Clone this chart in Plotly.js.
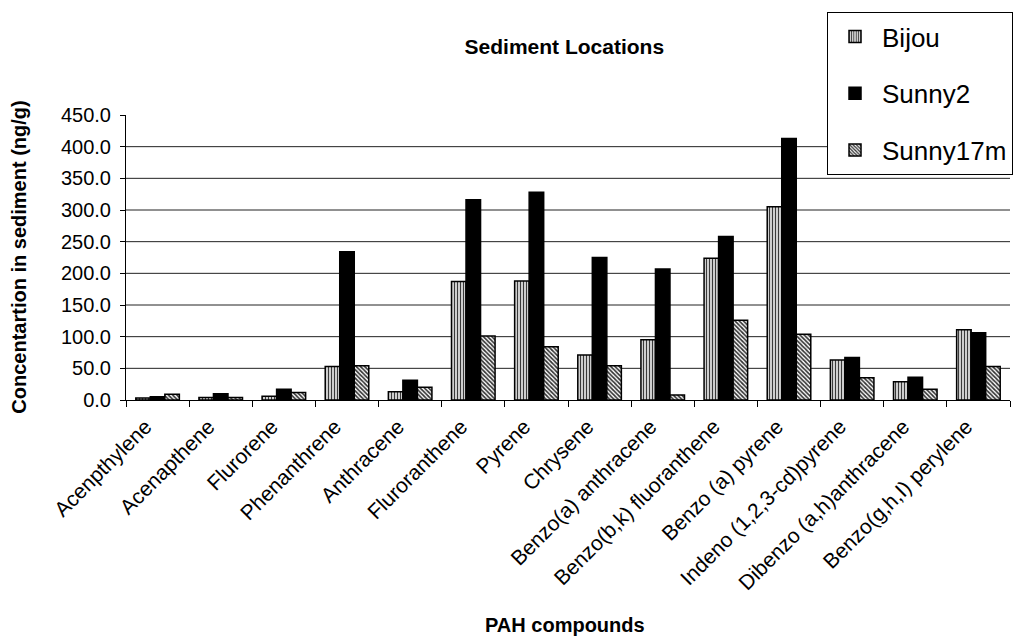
<!DOCTYPE html>
<html>
<head>
<meta charset="utf-8">
<script src="https://cdn.plot.ly/plotly-3.0.1.min.js"></script>
<style>
html,body{margin:0;padding:0;background:#fff;}
#chart{width:1028px;height:637px;}
</style>
</head>
<body>
<div id="chart"></div>
<script>
const compounds = [
  "Acenpthylene", "Acenapthene", "Flurorene", "Phenanthrene", "Anthracene",
  "Fluroranthene", "Pyrene", "Chrysene", "Benzo(a) anthracene",
  "Benzo(b,k) fluoranthene", "Benzo (a) pyrene", "Indeno (1,2,3-cd)pyrene",
  "Dibenzo (a,h)anthracene", "Benzo(g,h,I) perylene"
];
const bijou    = [3, 4, 6, 53, 13, 187, 188, 71, 95, 224, 305, 63, 29, 111];
const sunny2   = [5, 10, 17, 234, 31, 316, 328, 225, 207, 258, 413, 67, 36, 106];
const sunny17m = [9, 4, 12, 54, 20, 101, 84, 54, 8, 126, 104, 35, 17, 53];
const yTicks = [0, 50, 100, 150, 200, 250, 300, 350, 400, 450];
const gridValues = [50, 100, 150, 200, 250, 300, 350, 400];

const FONT = "Liberation Sans, Arial, sans-serif";

const traces = [
  {
    type: "bar", name: "Bijou", x: compounds, y: bijou, legendgroup: "a",
    marker: {color: "#ffffff", line: {color: "#000", width: 1.5},
      pattern: {shape: "|", size: 3, solidity: 0.5, fgcolor: "#3a3a3a", bgcolor: "#fff", fillmode: "replace"}}
  },
  {
    type: "bar", name: "Sunny2", x: compounds, y: sunny2, legendgroup: "b",
    marker: {color: "#000000", line: {color: "#000", width: 1.5}}
  },
  {
    type: "bar", name: "Sunny17m", x: compounds, y: sunny17m, legendgroup: "c",
    marker: {color: "#ffffff", line: {color: "#000", width: 1.5},
      pattern: {shape: "\\", size: 3, solidity: 0.55, fgcolor: "#333", bgcolor: "#fff", fillmode: "replace"}}
  }
];

const shapes = gridValues.map(v => ({
  type: "line", xref: "paper", yref: "y", x0: 0, x1: 1, y0: v, y1: v,
  line: {color: "#222", width: 1}, layer: "below"
}));

const layout = {
  width: 1028, height: 637,
  paper_bgcolor: "#fff", plot_bgcolor: "#fff",
  margin: {l: 126, r: 18, t: 115, b: 237},
  font: {family: FONT, color: "#000", size: 20},
  barmode: "group", bargap: 0.31, bargroupgap: 0,
  title: {text: "<b>Sediment Locations</b>", font: {family: FONT, size: 21, color: "#000"},
    x: 0.549, xanchor: "center", y: 0.927, yanchor: "middle"},
  xaxis: {
    type: "category", tickangle: -45, tickfont: {family: FONT, size: 21, color: "#000"},
    showline: true, linecolor: "#000", linewidth: 1,
    ticks: "outside", tickson: "boundaries", ticklen: 6, tickcolor: "#000",
    ticklabelshift: -12, ticklabelstandoff: 5,
    showgrid: false, automargin: false
  },
  yaxis: {
    range: [0, 450], tickvals: yTicks, tickformat: ".1f",
    tickfont: {family: FONT, size: 20, color: "#000"},
    showline: true, linecolor: "#000", linewidth: 1,
    ticks: "outside", ticklen: 5, tickcolor: "#000", ticklabelstandoff: 5,
    showgrid: false, zeroline: false, automargin: false
  },
  annotations: [
    {text: "<b>PAH compounds</b>", xref: "paper", yref: "paper", x: 0.497, y: -0.789,
      xanchor: "center", yanchor: "middle", showarrow: false,
      font: {family: FONT, size: 20, color: "#000"}},
    {text: "<b>Concentartion in sediment (ng/g)</b>", xref: "paper", yref: "paper",
      x: -0.122, y: 0.5, xanchor: "center", yanchor: "middle", textangle: -90, showarrow: false,
      font: {family: FONT, size: 20, color: "#000"}}
  ],
  shapes: shapes,
  showlegend: true,
  legend: {
    x: 0.793, xanchor: "left", y: 1.361, yanchor: "top",
    bgcolor: "#fff", bordercolor: "#000", borderwidth: 1,
    font: {family: FONT, size: 26, color: "#000"},
    traceorder: "grouped", tracegroupgap: 20, itemwidth: 44
  }
};

Plotly.newPlot("chart", traces, layout, {displayModeBar: false, staticPlot: true});
</script>
</body>
</html>
